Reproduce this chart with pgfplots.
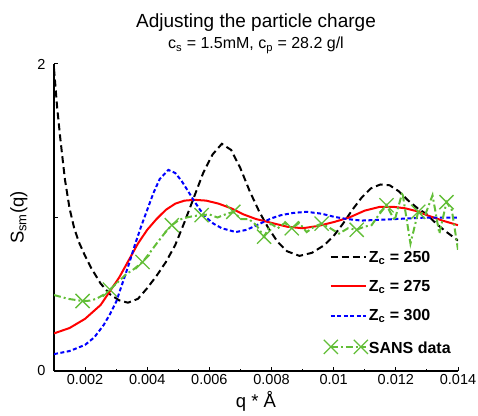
\documentclass[border=0pt]{standalone}
\usepackage{pgfplots}
\pgfplotsset{compat=1.18}
\usepackage{fontspec}
\setmainfont{Liberation Sans}
\definecolor{sansgreen}{RGB}{98,190,55}
\pgfplotsset{
  lineleg/.style={legend image code/.code={\draw[##1] (0pt,0pt) -- (30pt,0pt);\path (0pt,0pt) -- (35pt,0pt);}},
  sansleg/.style={legend image code/.code={\draw[##1, mark repeat=1, mark phase=1, overlay] plot coordinates {(0pt,0pt) (30pt,0pt)};\path (0pt,0pt) -- (35pt,0pt);}},
}
\begin{document}
\begin{tikzpicture}
\begin{axis}[
  at={(0pt,0pt)}, anchor=south west,
  scale only axis, width=404pt, height=307pt,
  xmin=0.001, xmax=0.014, ymin=0, ymax=2,
  axis x line=bottom, axis y line=left,
  axis line style={line width=1.3pt, -},
  xtick={0.002,0.004,0.006,0.008,0.01,0.012,0.014},
  minor xtick={0.003,0.005,0.007,0.009,0.011,0.013},
  ytick={0,1,2}, yticklabels={0,,2},
  tick align=inside,
  major tick length=4pt, minor tick length=2.5pt,
  tick style={line width=1pt, black},
  scaled x ticks=false,
  xticklabel style={/pgf/number format/fixed, /pgf/number format/precision=3},
  yticklabel style={xshift=-5pt},
  /pgf/number format/assume math mode=true,
  tick label style={font=\fontsize{14.5}{16}\selectfont},
  xlabel={q * Å}, ylabel={S\textsubscript{sm}(q)},
  label style={font=\fontsize{18.5}{20}\selectfont},
  ylabel style={yshift=3pt},
  title={{\fontsize{19}{22}\selectfont Adjusting the particle charge}\\[5pt]{\fontsize{16}{18}\selectfont c\textsubscript{s} = 1.5mM, c\textsubscript{p} = 28.2 g/l}},
  title style={align=center, at={(0.5,1)}, anchor=south, yshift=1pt},
  legend style={draw=none, fill=none, font=\fontsize{16}{18}\selectfont\bfseries,
    at={(0.675,0.405)}, anchor=north west, row sep=12.5pt},
  legend cell align=left,
  lineleg,
]
\addplot[black, line width=2pt, dash pattern=on 7pt off 4pt] coordinates {
(0.00100,1.97) (0.00110,1.72) (0.00120,1.52) (0.00135,1.25) (0.00150,1.06)
(0.00165,0.93) (0.00180,0.84) (0.00200,0.75) (0.00220,0.67) (0.00250,0.57)
(0.00280,0.50) (0.00310,0.46) (0.00338,0.445) (0.00370,0.47) (0.00400,0.54)
(0.00430,0.62) (0.00460,0.71) (0.00490,0.82) (0.00520,0.97) (0.00550,1.13)
(0.00580,1.29) (0.00610,1.41) (0.00640,1.48) (0.00670,1.44) (0.00700,1.32)
(0.00730,1.17) (0.00760,1.04) (0.00790,0.93) (0.00820,0.84) (0.00850,0.78)
(0.00890,0.75) (0.00930,0.77) (0.00970,0.82) (0.01000,0.88) (0.01030,0.96)
(0.01060,1.05) (0.01090,1.13) (0.01120,1.19) (0.01150,1.215) (0.01180,1.21)
(0.01210,1.17) (0.01240,1.11) (0.01270,1.06) (0.01300,1.02) (0.01330,0.96)
(0.01360,0.91) (0.01400,0.85)};
\addlegendentry{Z\textsubscript{c} = 250}
\addplot[red, line width=2pt] coordinates {
(0.00100,0.245) (0.00150,0.28) (0.00200,0.34) (0.00250,0.43) (0.00280,0.52)
(0.00310,0.61) (0.00340,0.72) (0.00370,0.83) (0.00400,0.92) (0.00430,0.99)
(0.00460,1.05) (0.00490,1.09) (0.00520,1.11) (0.00553,1.115) (0.00590,1.11)
(0.00630,1.09) (0.00670,1.06) (0.00710,1.02) (0.00750,0.99) (0.00800,0.965)
(0.00850,0.94) (0.00900,0.93) (0.00950,0.945) (0.01000,0.97) (0.01050,1.00)
(0.01100,1.045) (0.01150,1.07) (0.01190,1.07) (0.01230,1.06) (0.01270,1.04)
(0.01300,1.015) (0.01350,0.98) (0.01400,0.95)};
\addlegendentry{Z\textsubscript{c} = 275}
\addplot[blue, line width=2pt, dash pattern=on 4pt off 2.5pt] coordinates {
(0.00100,0.11) (0.00150,0.13) (0.00200,0.17) (0.00230,0.22) (0.00260,0.30)
(0.00280,0.37) (0.00300,0.45) (0.00320,0.57) (0.00340,0.69) (0.00360,0.82)
(0.00380,0.94) (0.00400,1.05) (0.00420,1.16) (0.00440,1.25) (0.00468,1.31)
(0.00490,1.29) (0.00510,1.24) (0.00532,1.17) (0.00550,1.11) (0.00570,1.05)
(0.00590,1.00) (0.00613,0.96) (0.00640,0.93) (0.00685,0.905) (0.00720,0.92)
(0.00763,0.96) (0.00800,0.995) (0.00830,1.015) (0.00870,1.03) (0.00913,1.037)
(0.00960,1.025) (0.01000,1.005) (0.01042,0.99) (0.01090,0.98) (0.01150,0.985)
(0.01200,0.99) (0.01300,1.00) (0.01400,1.00)};
\addlegendentry{Z\textsubscript{c} = 300}
\addplot[sansgreen, line width=2pt, dash pattern=on 7pt off 3pt on 2pt off 3pt,
  mark=x, mark size=10pt, mark repeat=4, mark phase=3,
  mark options={solid, line width=1.3pt}, sansleg] coordinates {
(0.00100,0.495) (0.00146,0.470) (0.00192,0.456) (0.00214,0.458) (0.00236,0.47)
(0.00258,0.495) (0.00280,0.53) (0.00306,0.58) (0.00332,0.63) (0.00358,0.665)
(0.00385,0.71) (0.00408,0.77) (0.00432,0.835) (0.00455,0.895) (0.00479,0.95)
(0.00503,0.985) (0.00527,1.00) (0.00551,1.01) (0.00575,1.015) (0.00600,1.02)
(0.00626,1.00) (0.00651,1.02) (0.00677,1.037) (0.00702,0.99) (0.00727,0.99)
(0.00751,0.95) (0.00776,0.875) (0.00798,0.96) (0.00820,0.93) (0.00843,0.965)
(0.00865,0.93) (0.00889,0.965) (0.00913,0.905) (0.00937,0.94) (0.00961,0.96)
(0.00989,0.93) (0.01017,0.895) (0.01046,0.93) (0.01074,0.92) (0.01098,0.94)
(0.01122,0.95) (0.01146,1.02) (0.01170,1.08) (0.01196,0.98) (0.01221,1.165)
(0.01247,0.83) (0.01272,1.037) (0.01295,1.02) (0.01318,1.145) (0.01340,0.895)
(0.01363,1.10) (0.01380,1.05) (0.01400,0.79)};
\addlegendentry{\rule{0pt}{15.5pt}SANS data}
\end{axis}
\pgfresetboundingbox
\path[use as bounding box] (-54pt,-44pt) rectangle (424pt,371pt);
\end{tikzpicture}
\end{document}
